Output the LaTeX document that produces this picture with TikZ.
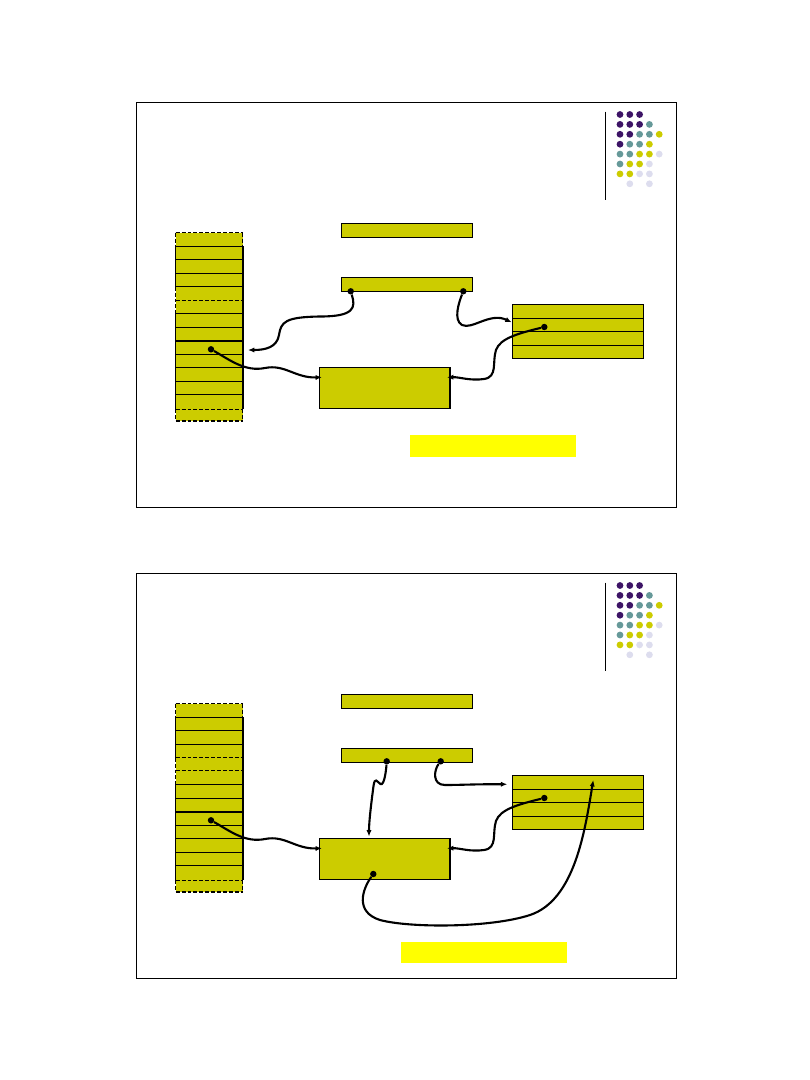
\documentclass[tikz,border=0pt]{standalone}
\usepackage{tikz}
\usetikzlibrary{arrows.meta,calc,fit}
\definecolor{SlideOlive}{HTML}{CCCC00}
\definecolor{SlideYellow}{HTML}{FFFF00}
\definecolor{LogoP}{HTML}{3D1466}
\definecolor{LogoT}{HTML}{669999}
\definecolor{LogoY}{HTML}{CCCC00}
\definecolor{LogoL}{HTML}{DDDDEE}
\tikzset{
  sframe/.style={draw=black,line width=0.7pt},
  mbox/.style={draw=black,fill=SlideOlive,line width=1.1pt,inner sep=0pt},
  mstack/.style={fill=SlideOlive,inner sep=0pt},
  mcell/.style={line width=1pt},
  mdash/.style={line width=1pt,dash pattern=on 2.8pt off 1.4pt},
  pdot/.style={circle,fill=black,inner sep=0pt,minimum size=1.6mm},
  ptr/.style={-{Latex[length=1.6mm,width=1.3mm]},line width=1.5pt},
  hbox/.style={fill=SlideYellow,inner sep=0pt},
  ldot/.style={circle,inner sep=0pt,minimum size=1.7mm}
}

\begin{document}
\begin{tikzpicture}[x=0.025cm,y=-0.025cm]
  \useasboundingbox (0,0) rectangle (810,1080);

  % the two slides share frame, logo, boxes and two pointers
  \foreach \s/\dy in {1/0,2/471}{
    \begin{scope}[shift={(0,\dy)}]
      \node[sframe,inner sep=0pt,fit={(136,102) (676,507)}] (slide\s) {};
      \draw[line width=0.7pt] (605.3,111.7) -- (605.3,200);
      \foreach \row [count=\r from 0] in {{0/P,1/P,2/P},{0/P,1/P,2/P,3/T},
          {0/P,1/P,2/T,3/T,4/Y},{0/P,1/T,2/T,3/Y},{0/T,1/T,2/Y,3/Y,4/L},
          {0/T,1/Y,2/Y,3/L},{0/Y,1/Y,2/L,3/L},{1/L,3/L}}
        \foreach \k/\c in \row
          \node[ldot,fill=Logo\c] (logo\s-\r-\k) at ({620+9.8*\k},{114.5+9.9*\r}) {};

      % stack
      \node[mstack,fit={(175.7,232.7) (242.7,421)}] (stack\s) {};
      \foreach \y in {246.3,259.7,273.7,313.3,327.7,341,354.3,367.7,381.3,394.3}
        \draw[mcell] (175.7,\y) -- (242.7,\y);
      \draw[mdash] (175.7,232.7) -- (242.7,232.7) (175.7,409.3) -- (242.7,409.3)
        (175.7,421) -- (242.7,421);
      \draw[mcell] (175.7,246.3) -- (175.7,286.7) (175.7,313.3) -- (175.7,409.3);
      \draw[mdash] (175.7,232.7) -- (175.7,246.3) (175.7,286.7) -- (175.7,313.3)
        (175.7,409.3) -- (175.7,421);
      \draw[line width=1.5pt] (242.7,246.3) -- (242.7,409.3);
      \draw[mdash] (242.7,232.7) -- (242.7,246.3) (242.7,409.3) -- (242.7,421);

      % boxes
      \node[mbox,fit={(341.7,223.3) (472.3,237.3)}] (barA\s) {};
      \node[mbox,fit={(341.7,277.3) (472.3,291.3)}] (barB\s) {};
      \node[mbox,fit={(512.7,304.3) (643.3,358.3)}] (rbox\s) {};
      \foreach \f in {0.267,0.507,0.759}
        \draw[mcell] ($(rbox\s.north west)!\f!(rbox\s.south west)$)
          -- ($(rbox\s.north east)!\f!(rbox\s.south east)$);
      \node[mbox,fit={(319.3,367.3) (450,408.3)}] (mid\s) {};

      \node[pdot] (sdot\s) at (211,349.3) {};
      \node[pdot] (rdot\s) at (544.3,327) {};
      \coordinate (midin\s) at (322,377.3);
      \coordinate (midout\s) at (447,377.3);
      \draw[ptr] (sdot\s) .. controls (230,360) and (245,372) .. (265,368)
        .. controls (285,364) and (295,378) .. (midin\s);
      \draw[ptr] (rdot\s) .. controls (520,333) and (500,338) .. (496,350)
        .. controls (492,362) and (498,377) .. (484,379)
        .. controls (470,381) and (460,377) .. (midout\s);
    \end{scope}
  }

  % first slide
  \draw[mcell] (175.7,286.7) -- (242.7,286.7);
  \draw[mdash] (175.7,300.7) -- (242.7,300.7);
  \node[pdot] (bdot1a) at (350.7,291.3) {};
  \node[pdot] (bdot1b) at (463.3,291.3) {};
  \coordinate (slot1) at (248,350);
  \coordinate (rin1) at (511.7,322.3);
  \draw[ptr] (bdot1a) .. controls (356,308) and (354,316.5) .. (320,316.5)
    .. controls (285,317) and (281,322) .. (279,335)
    .. controls (277,347) and (266,350) .. (slot1);
  \draw[ptr] (bdot1b) .. controls (459,302) and (453,320) .. (462,325)
    .. controls (472,330) and (490,312) .. (rin1);
  \node[hbox,fit={(410,435) (575.7,456.7)}] (note1) {};

  % second slide
  \draw[mdash] (175.7,757.7) -- (242.7,757.7) (175.7,770.3) -- (242.7,770.3);
  \node[pdot] (bdot2a) at (386.7,761.3) {};
  \node[pdot] (bdot2b) at (440.7,761.3) {};
  \node[pdot] (mdot2) at (373.3,874) {};
  \coordinate (midtop2) at (369,836.5);
  \coordinate (rin2) at (507.3,784.3);
  \coordinate (rbot2) at (593.3,780);
  \draw[ptr] (bdot2a) .. controls (386,772) and (384,786) .. (380.5,784)
    .. controls (377,782) and (375,776) .. (373.5,786)
    .. controls (371,805) and (369,822) .. (midtop2);
  \draw[ptr] (bdot2b) .. controls (434,770) and (432,785) .. (445,785)
    .. controls (460,785) and (480,784) .. (rin2);
  \draw[ptr] (mdot2) .. controls (362,890) and (355,912) .. (380,920)
    .. controls (410,928) and (490,928) .. (530,915)
    .. controls (575,900) and (585,830) .. (rbot2);
  \node[hbox,fit={(401,941.7) (566.7,962.7)}] (note2) {};
\end{tikzpicture}
\end{document}
